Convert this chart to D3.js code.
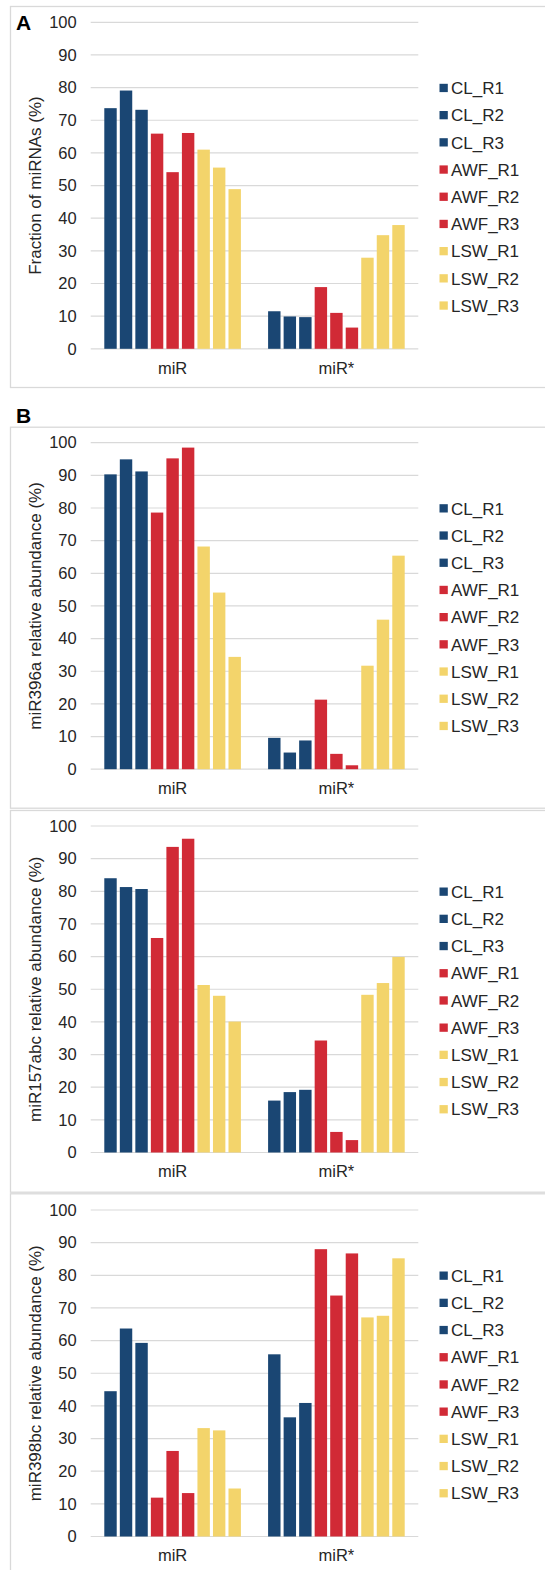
<!DOCTYPE html>
<html>
<head>
<meta charset="utf-8">
<script src="https://cdn.jsdelivr.net/npm/d3@7"></script>
<style>
  body { margin: 0; background: #fff; }
  svg text { font-family: Arial, "Liberation Sans", sans-serif; fill: #262626; }
</style>
</head>
<body>
<div id="chart"></div>
<script>
// data
const categories = ["miR", "miR*"];
const series = ["CL_R1", "CL_R2", "CL_R3", "AWF_R1", "AWF_R2", "AWF_R3", "LSW_R1", "LSW_R2", "LSW_R3"];
const yTicks = [0, 10, 20, 30, 40, 50, 60, 70, 80, 90, 100];

// values per series, [miR, miR*]
const fractionMiRNAs = [
  [73.7, 11.5], [79.1, 9.9], [73.2, 9.7],
  [65.9, 18.9], [54.1, 11.0], [66.1, 6.5],
  [61.0, 27.9], [55.5, 34.8], [48.9, 37.9]
];
const miR396a = [
  [90.3, 9.6], [94.9, 5.1], [91.2, 8.8],
  [78.6, 21.3], [95.2, 4.7], [98.5, 1.2],
  [68.2, 31.7], [54.1, 45.8], [34.4, 65.4]
];
const miR157abc = [
  [84.0, 15.9], [81.3, 18.5], [80.7, 19.2],
  [65.7, 34.3], [93.6, 6.3], [96.1, 3.8],
  [51.3, 48.3], [48.0, 51.9], [40.1, 59.9]
];
const miR398bc = [
  [44.5, 55.8], [63.7, 36.5], [59.3, 40.9],
  [11.9, 88.0], [26.2, 73.8], [13.3, 86.7],
  [33.2, 67.1], [32.5, 67.6], [14.7, 85.2]
];

const panels = [
  { values: fractionMiRNAs, title: "Fraction of miRNAs (%)", letter: "A", letterY: 30, boxTop: 6, boxBottom: 387, plotTop: 22.3 },
  { values: miR396a, title: "miR396a relative abundance (%)", letter: "B", letterY: 423, boxTop: 426.7, boxBottom: 807.7, plotTop: 442.7 },
  { values: miR157abc, title: "miR157abc relative abundance (%)", letter: null, boxTop: 810, boxBottom: 1191.7, plotTop: 826 },
  { values: miR398bc, title: "miR398bc relative abundance (%)", letter: null, boxTop: 1193.3, boxBottom: 1580, plotTop: 1210 }
];

const width = 545, height = 1570;
const plotLeft = 90.7, plotRight = 418.3, plotH = 326.5;

const color = d3.scaleOrdinal()
  .domain(series)
  .range(["#1a4673", "#1a4673", "#1a4673", "#d12a36", "#d12a36", "#d12a36", "#f3d46b", "#f3d46b", "#f3d46b"]);

const x0 = d3.scaleBand().domain(categories).range([plotLeft, plotRight])
  .paddingInner(0.166).paddingOuter(0.083);
const x1 = d3.scaleBand().domain(series).range([0, x0.bandwidth()]).paddingInner(0.2).paddingOuter(0);

const svg = d3.select("#chart").append("svg")
  .attr("width", width)
  .attr("height", height);

panels.forEach((p) => {
  const y = d3.scaleLinear().domain([0, 100]).range([p.plotTop + plotH, p.plotTop]);

  // panel frame
  svg.append("rect")
    .attr("x", 10.5).attr("y", p.boxTop + 0.5)
    .attr("width", 560).attr("height", p.boxBottom - p.boxTop)
    .attr("fill", "none").attr("stroke", "#d9d9d9").attr("stroke-width", 1.3);

  if (p.letter) {
    svg.append("text")
      .attr("x", 16).attr("y", p.letterY)
      .style("font-size", "21px").style("font-weight", "bold")
      .style("fill", "#000")
      .text(p.letter);
  }

  // gridlines
  svg.append("g")
    .selectAll("line")
    .data(yTicks)
    .join("line")
    .attr("x1", plotLeft).attr("x2", plotRight)
    .attr("y1", (d) => y(d)).attr("y2", (d) => y(d))
    .attr("stroke", "#d9d9d9").attr("stroke-width", 1.2);

  // y axis labels (no domain line, like the original)
  const yAxis = svg.append("g")
    .attr("transform", `translate(${plotLeft - 14},0)`)
    .call(d3.axisLeft(y).tickValues(yTicks).tickSize(0).tickPadding(0));
  yAxis.select(".domain").remove();
  yAxis.selectAll("text")
    .style("font-size", "16.5px")
    .style("font-family", "Arial, 'Liberation Sans', sans-serif")
    .attr("fill", "#262626");

  // y title
  svg.append("text")
    .attr("transform", `translate(41, ${p.plotTop + plotH / 2}) rotate(-90)`)
    .attr("text-anchor", "middle")
    .style("font-size", "17px")
    .text(p.title);

  // bars
  const groups = svg.append("g")
    .selectAll("g")
    .data(categories)
    .join("g")
    .attr("transform", (c) => `translate(${x0(c)},0)`);

  groups.selectAll("rect")
    .data((c, ci) => series.map((s, si) => ({ s: s, v: p.values[si][ci] })))
    .join("rect")
    .attr("x", (d) => x1(d.s))
    .attr("width", x1.bandwidth())
    .attr("y", (d) => y(d.v))
    .attr("height", (d) => y(0) - y(d.v))
    .attr("fill", (d) => color(d.s));

  // category labels
  const xAxis = svg.append("g")
    .attr("transform", `translate(0, ${y(0)})`)
    .call(d3.axisBottom(x0).tickSize(0).tickPadding(13));
  xAxis.select(".domain").remove();
  xAxis.selectAll("text")
    .style("font-size", "16.5px")
    .style("font-family", "Arial, 'Liberation Sans', sans-serif")
    .attr("fill", "#262626");

  // legend
  const legend = svg.append("g")
    .selectAll("g")
    .data(series)
    .join("g")
    .attr("transform", (d, i) => `translate(439.5, ${p.plotTop + 65.7 + i * 27.2})`);

  legend.append("rect")
    .attr("x", 0).attr("y", -4.2)
    .attr("width", 8.3).attr("height", 8.3)
    .attr("fill", (d) => color(d));

  legend.append("text")
    .attr("x", 11.5)
    .attr("dy", "0.36em")
    .style("font-size", "17px")
    .text((d) => d);
});
</script>
</body>
</html>
